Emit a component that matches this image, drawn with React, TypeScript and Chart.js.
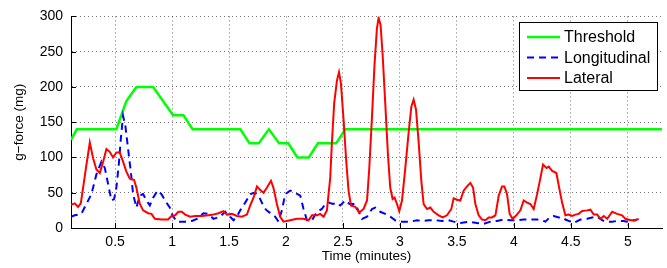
import React, { useEffect, useRef } from "react";
import { Chart, registerables } from "chart.js";

Chart.register(...registerables);

// ---- data (minutes, mg) ----
const thresholdTime = [0.113, 0.164, 0.511, 0.599, 0.687, 0.834, 1.009, 1.1, 1.18, 1.6, 1.68, 1.76, 1.85, 1.94, 2.02, 2.1, 2.2, 2.28, 2.44, 2.52, 5.3];
const thresholdValues = [125, 140, 140, 180, 200, 200, 160, 160, 140, 140, 120, 120, 140, 120, 120, 100, 100, 120, 120, 140, 140];

const lateralTime = [0.113,0.146,0.175,0.199,0.219,0.248,0.278,0.307,0.336,0.366,0.395,0.424,0.453,0.482,0.511,0.541,0.570,0.599,0.629,0.667,0.687,0.717,0.746,0.790,0.819,0.849,0.907,0.965,0.995,1.027,1.056,1.086,1.115,1.159,1.203,1.261,1.319,1.363,1.407,1.451,1.481,1.525,1.569,1.613,1.657,1.686,1.715,1.745,1.774,1.803,1.832,1.868,1.890,1.920,1.949,1.978,2.037,2.096,2.154,2.198,2.228,2.272,2.300,2.330,2.359,2.388,2.403,2.423,2.447,2.465,2.482,2.505,2.529,2.549,2.570,2.608,2.643,2.681,2.711,2.731,2.755,2.777,2.798,2.813,2.830,2.848,2.871,2.895,2.915,2.936,2.953,2.974,2.994,3.018,3.047,3.076,3.100,3.120,3.141,3.164,3.188,3.208,3.238,3.267,3.296,3.340,3.375,3.413,3.451,3.471,3.501,3.530,3.559,3.589,3.618,3.642,3.662,3.691,3.721,3.750,3.779,3.808,3.838,3.867,3.896,3.917,3.940,3.963,3.989,4.022,4.057,4.086,4.116,4.145,4.174,4.204,4.233,4.256,4.286,4.306,4.336,4.373,4.394,4.423,4.452,4.481,4.511,4.540,4.569,4.599,4.643,4.672,4.701,4.731,4.760,4.789,4.819,4.863,4.906,4.950,4.979,5.023,5.067,5.096];
const lateralValues = [33,35,30,35,57,89,121,99,83,78,94,112,108,100,107,107,94,80,70,68,57,34,25,21,20,13,12,12,17,18,23,23,19,16,17,17,18,19,21,24,19,20,17,16,19,32,43,59,54,50,57,67,57,34,16,9,11,13,13,11,18,18,20,16,25,71,122,177,209,221,205,154,94,53,32,30,22,27,39,85,159,232,283,298,288,246,177,103,57,41,43,34,24,39,85,135,172,182,168,122,66,34,27,29,23,18,15,18,27,42,40,39,53,59,64,57,34,18,12,11,15,15,18,46,59,59,48,20,13,18,25,39,36,34,27,48,71,90,85,87,81,78,60,36,18,19,17,19,20,24,25,26,19,19,13,17,13,23,20,18,13,11,11,13];

const longitudinalTime = [0.113,0.146,0.204,0.248,0.292,0.336,0.380,0.410,0.439,0.468,0.491,0.511,0.532,0.550,0.570,0.590,0.614,0.638,0.658,0.687,0.717,0.746,0.775,0.805,0.834,0.872,0.907,0.951,0.980,1.003,1.042,1.115,1.174,1.218,1.276,1.319,1.363,1.422,1.466,1.510,1.539,1.569,1.598,1.642,1.686,1.723,1.759,1.794,1.824,1.870,1.905,1.934,1.964,1.993,2.037,2.081,2.125,2.154,2.184,2.228,2.272,2.315,2.344,2.374,2.412,2.447,2.476,2.520,2.558,2.608,2.667,2.711,2.755,2.784,2.827,2.871,2.915,2.959,3.018,3.091,3.150,3.194,3.252,3.311,3.369,3.427,3.471,3.530,3.603,3.677,3.735,3.794,3.852,3.911,3.969,4.028,4.086,4.145,4.204,4.248,4.277,4.314,4.350,4.394,4.426,4.452,4.496,4.525,4.584,4.643,4.687,4.731,4.775,4.804,4.863,4.906,4.965,4.994,5.038,5.082];
const longitudinalValues = [16,18,20,34,48,76,94,85,62,39,41,57,89,126,159,145,112,80,48,29,46,48,39,32,43,53,48,36,29,18,9,9,10,13,21,20,13,16,23,16,11,16,25,36,48,50,46,34,26,20,16,9,25,48,53,50,46,27,11,11,23,27,34,36,34,36,32,39,34,34,13,16,27,29,23,20,16,11,9,9,11,10,11,11,10,11,9,7,9,7,6,9,10,12,11,11,12,12,12,11,9,15,17,15,15,12,9,7,12,13,15,16,11,9,9,10,10,9,10,12];

const xTicks = [0.5, 1, 1.5, 2, 2.5, 3, 3.5, 4, 4.5, 5];
const yTicks = [0, 50, 100, 150, 200, 250, 300];
const xMin = 0.113;
const xMax = 5.3;

const FONT = '"Liberation Sans", Arial, Helvetica, sans-serif';

const toPoints = (t: number[], v: number[]) => t.map((x, i) => ({ x, y: v[i] }));

const tickMarksPlugin = {
  id: "innerTicks",
  afterDatasetsDraw(chart: any) {
    const { ctx, chartArea, scales } = chart;
    ctx.save();
    ctx.strokeStyle = "#000";
    ctx.lineWidth = 1;
    ctx.setLineDash([]);
    ctx.beginPath();
    xTicks.forEach((v) => {
      const px = Math.round(scales.x.getPixelForValue(v)) + 0.5;
      ctx.moveTo(px, chartArea.bottom);
      ctx.lineTo(px, chartArea.bottom - 5);
    });
    yTicks.forEach((v) => {
      const py = Math.round(scales.y.getPixelForValue(v)) + 0.5;
      ctx.moveTo(chartArea.left, py);
      ctx.lineTo(chartArea.left + 5, py);
    });
    ctx.stroke();
    ctx.restore();
  },
};

const legendPlugin = {
  id: "matlabLegend",
  afterDraw(chart: any) {
    const { ctx, chartArea } = chart;
    const boxW = 138;
    const boxH = 68;
    const x0 = Math.round(chartArea.right - 5 - boxW);
    const y0 = Math.round(chartArea.top + 6);
    ctx.save();
    ctx.fillStyle = "#fff";
    ctx.fillRect(x0, y0, boxW, boxH);
    ctx.strokeStyle = "#000";
    ctx.lineWidth = 1;
    ctx.setLineDash([]);
    ctx.strokeRect(x0 + 0.5, y0 + 0.5, boxW, boxH);
    chart.data.datasets.forEach((ds: any, i: number) => {
      const yy = y0 + 15 + i * 20.5;
      ctx.strokeStyle = ds.borderColor;
      ctx.lineWidth = ds.borderWidth;
      ctx.setLineDash(ds.borderDash || []);
      ctx.beginPath();
      ctx.moveTo(x0 + 8, yy);
      ctx.lineTo(x0 + 41, yy);
      ctx.stroke();
      ctx.setLineDash([]);
      ctx.fillStyle = "#000";
      ctx.font = `16px ${FONT}`;
      ctx.textBaseline = "middle";
      ctx.textAlign = "left";
      ctx.fillText(ds.label, x0 + 45, yy + 1);
    });
    ctx.restore();
  },
};

export default function App() {
  const ref = useRef<HTMLCanvasElement | null>(null);

  useEffect(() => {
    document.body.style.margin = "0";
    if (!ref.current) return;
    const chart = new Chart(ref.current, {
      type: "line",
      data: {
        datasets: [
          {
            label: "Threshold",
            data: toPoints(thresholdTime, thresholdValues),
            borderColor: "#00ff00",
            borderWidth: 2.5,
            pointRadius: 0,
            tension: 0,
            order: 2,
          },
          {
            label: "Longitudinal",
            data: toPoints(longitudinalTime, longitudinalValues),
            borderColor: "#0000ff",
            borderWidth: 2,
            borderDash: [7, 5],
            pointRadius: 0,
            tension: 0,
            order: 1,
          },
          {
            label: "Lateral",
            data: toPoints(lateralTime, lateralValues),
            borderColor: "#ff0000",
            borderWidth: 2,
            pointRadius: 0,
            tension: 0,
            order: 0,
          },
        ],
      },
      options: {
        animation: false,
        responsive: false,
        maintainAspectRatio: false,
        layout: { padding: { left: 0, right: 5, top: 11, bottom: 0 } },
        plugins: { legend: { display: false }, tooltip: { enabled: false } },
        scales: {
          x: {
            type: "linear",
            min: xMin,
            max: xMax,
            afterBuildTicks: (s: any) => {
              s.ticks = xTicks.map((value) => ({ value }));
            },
            afterFit: (s: any) => {
              s.height = 40;
            },
            ticks: {
              color: "#000",
              font: { family: FONT, size: 14 },
              padding: 6,
              maxRotation: 0,
              autoSkip: false,
              callback: (v: any) => String(v),
            },
            grid: {
              color: "rgba(0,0,0,0.55)",
              lineWidth: 1,
              drawTicks: false,
            },
            border: { display: true, color: "#000", width: 1, dash: [1, 3] },
            title: {
              display: true,
              text: "Time (minutes)",
              color: "#000",
              font: { family: FONT, size: 13.5 },
              padding: { top: 0, bottom: 4 },
            },
          },
          y: {
            type: "linear",
            min: 0,
            max: 300,
            afterBuildTicks: (s: any) => {
              s.ticks = yTicks.map((value) => ({ value }));
            },
            afterFit: (s: any) => {
              s.width = 71;
            },
            ticks: {
              color: "#000",
              font: { family: FONT, size: 14 },
              padding: 8,
              callback: (v: any) => String(v),
            },
            grid: {
              color: "rgba(0,0,0,0.55)",
              lineWidth: 1,
              drawTicks: false,
            },
            border: { display: true, color: "#000", width: 1, dash: [1, 3] },
            title: {
              display: true,
              text: "g\u2212force (mg)",
              color: "#000",
              font: { family: FONT, size: 13.5 },
              padding: { top: 11, bottom: 0 },
            },
          },
        },
      },
      plugins: [tickMarksPlugin, legendPlugin],
    });
    return () => chart.destroy();
  }, []);

  return (
    <div style={{ position: "fixed", left: 0, top: 0, width: 667, height: 268, background: "#fff" }}>
      <canvas ref={ref} width={667} height={268} style={{ width: 667, height: 268, display: "block" }} />
    </div>
  );
}
